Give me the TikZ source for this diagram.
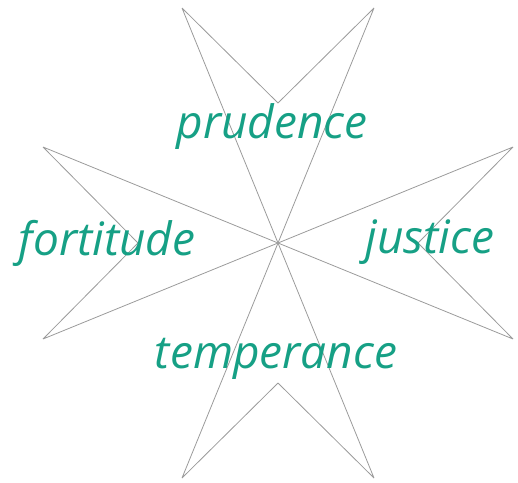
\documentclass[tikz,border=0pt]{standalone}
\usepackage{fontspec}
\setmainfont{Open Sans}
\usepackage{tikz}
\usetikzlibrary{positioning}
\definecolor{virtue}{RGB}{22,160,133}
\definecolor{pencil}{RGB}{155,155,155}

\begin{document}
\begin{tikzpicture}[x=1pt, y=-1pt,
    ray/.style={pencil, line width=0.8pt},
    word/.style={virtue, anchor=base, font=\fontsize{46}{46}\selectfont\itshape}]
  \useasboundingbox (0,0) rectangle (518,482);

  % centre and notches
  \coordinate (c) at (278,243);
  \coordinate (nT) at (278,103);
  \coordinate (nR) at (418,243);
  \coordinate (nB) at (278,383);
  \coordinate (nL) at (138,243);

  % tips
  \coordinate (tA) at (182,8);   \coordinate (tB) at (374,8);
  \coordinate (rA) at (513,147); \coordinate (rB) at (513,339);
  \coordinate (bA) at (374,478); \coordinate (bB) at (182,478);
  \coordinate (lA) at (43,339);  \coordinate (lB) at (43,147);

  % arms
  \foreach \t/\n in {tA/nT, tB/nT, rA/nR, rB/nR, bA/nB, bB/nB, lA/nL, lB/nL}
    \draw[ray] (\t) -- (\n) (\t) -- (c);

  % virtues
  \node[word] (prudence) at (272,138) {prudence};
  \node[word] (fortitude) at (107,255) {fortitude};
  \node[word] (justice) at (430,253) {justice};
  \node[word] (temperance) at (276,368) {temperance};
\end{tikzpicture}
\end{document}
